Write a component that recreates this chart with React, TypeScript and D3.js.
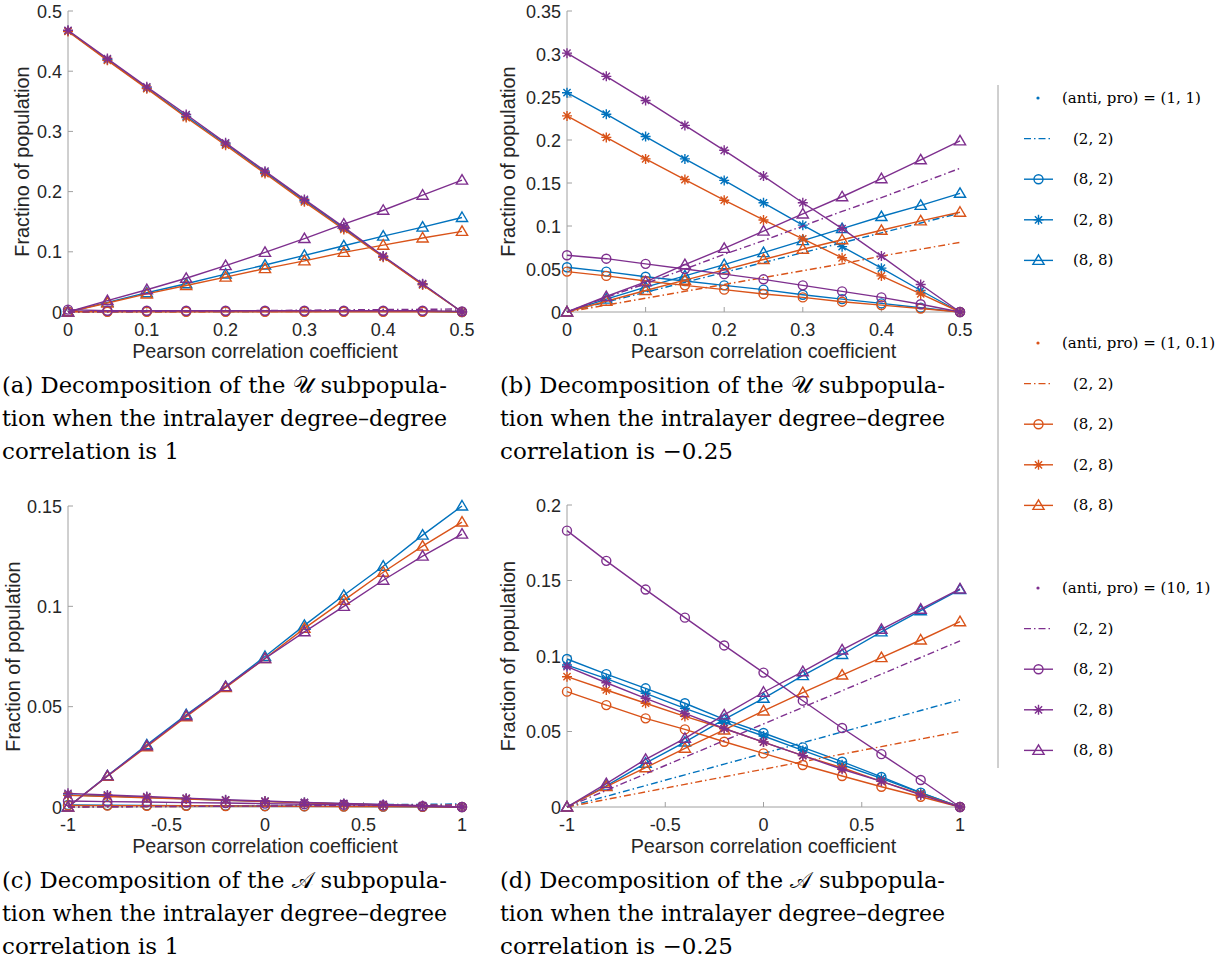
import React from 'react';
import * as d3 from 'd3';

const BLUE = '#0072BD';
const ORANGE = '#D95319';
const PURPLE = '#7E2F8E';

// x values
const xAB = [0, 0.05, 0.1, 0.15, 0.2, 0.25, 0.3, 0.35, 0.4, 0.45, 0.5];
const xCD = [-1, -0.8, -0.6, -0.4, -0.2, 0, 0.2, 0.4, 0.6, 0.8, 1];

// ticks
const xTicksAB = [0, 0.1, 0.2, 0.3, 0.4, 0.5];
const xTickLabelsAB = ['0', '0.1', '0.2', '0.3', '0.4', '0.5'];
const xTicksCD = [-1, -0.5, 0, 0.5, 1];
const xTickLabelsCD = ['-1', '-0.5', '0', '0.5', '1'];
const yTicksA = [0, 0.1, 0.2, 0.3, 0.4, 0.5];
const yTickLabelsA = ['0', '0.1', '0.2', '0.3', '0.4', '0.5'];
const yTicksB = [0, 0.05, 0.1, 0.15, 0.2, 0.25, 0.3, 0.35];
const yTickLabelsB = ['0', '0.05', '0.1', '0.15', '0.2', '0.25', '0.3', '0.35'];
const yTicksC = [0, 0.05, 0.1, 0.15];
const yTickLabelsC = ['0', '0.05', '0.1', '0.15'];
const yTicksD = [0, 0.05, 0.1, 0.15, 0.2];
const yTickLabelsD = ['0', '0.05', '0.1', '0.15', '0.2'];

// Panel (a)
const aBlueDash = [0, 0.0002, 0.0004, 0.0006, 0.0008, 0.001, 0.0012, 0.0014, 0.0016, 0.0018, 0.002];
const aBlueCirc = [0.001, 0.001, 0.001, 0.001, 0.001, 0.001, 0.001, 0.001, 0.001, 0.001, 0];
const aBlueStar = [0.467, 0.419, 0.372, 0.325, 0.279, 0.232, 0.185, 0.139, 0.092, 0.046, 0];
const aBlueTri = [0, 0.016, 0.032, 0.047, 0.063, 0.078, 0.094, 0.11, 0.126, 0.141, 0.157];
const aOrangeDash = [0, 0.00015, 0.0003, 0.00045, 0.0006, 0.00075, 0.0009, 0.00105, 0.0012, 0.00135, 0.0015];
const aOrangeCirc = [0.0005, 0.0005, 0.0005, 0.0005, 0.0005, 0.0005, 0.0005, 0.0005, 0.0005, 0.0005, 0];
const aOrangeStar = [0.466, 0.418, 0.371, 0.323, 0.277, 0.23, 0.183, 0.137, 0.091, 0.045, 0];
const aOrangeTri = [0, 0.015, 0.03, 0.044, 0.058, 0.072, 0.085, 0.099, 0.111, 0.123, 0.134];
const aPurpleDash = [0, 0.0005, 0.001, 0.0015, 0.002, 0.0025, 0.003, 0.0035, 0.004, 0.0045, 0.005];
const aPurpleCirc = [0.004, 0.002, 0.002, 0.002, 0.002, 0.002, 0.002, 0.002, 0.002, 0.002, 0.001];
const aPurpleStar = [0.468, 0.421, 0.374, 0.328, 0.281, 0.234, 0.187, 0.141, 0.093, 0.047, 0];
const aPurpleTri = [0, 0.019, 0.037, 0.056, 0.077, 0.099, 0.122, 0.146, 0.169, 0.194, 0.219];

// Panel (b)
const bBlueDash = [0, 0.0115, 0.023, 0.0345, 0.046, 0.0575, 0.069, 0.0805, 0.092, 0.1035, 0.115];
const bBlueCirc = [0.052, 0.047, 0.041, 0.036, 0.031, 0.026, 0.02, 0.015, 0.01, 0.005, 0];
const bBlueStar = [0.255, 0.23, 0.204, 0.178, 0.153, 0.127, 0.101, 0.076, 0.051, 0.025, 0];
const bBlueTri = [0, 0.015, 0.029, 0.042, 0.055, 0.069, 0.083, 0.097, 0.111, 0.124, 0.138];
const bOrangeDash = [0, 0.008, 0.016, 0.024, 0.032, 0.04, 0.048, 0.056, 0.065, 0.073, 0.081];
const bOrangeCirc = [0.047, 0.042, 0.036, 0.031, 0.026, 0.021, 0.017, 0.012, 0.008, 0.004, 0];
const bOrangeStar = [0.228, 0.203, 0.178, 0.154, 0.13, 0.107, 0.085, 0.063, 0.042, 0.021, 0];
const bOrangeTri = [0, 0.0125, 0.025, 0.037, 0.049, 0.061, 0.073, 0.084, 0.095, 0.106, 0.116];
const bPurpleDash = [0, 0.017, 0.033, 0.05, 0.067, 0.083, 0.1, 0.117, 0.133, 0.15, 0.167];
const bPurpleCirc = [0.066, 0.062, 0.056, 0.05, 0.044, 0.038, 0.031, 0.024, 0.017, 0.009, 0];
const bPurpleStar = [0.301, 0.274, 0.246, 0.217, 0.188, 0.158, 0.127, 0.097, 0.065, 0.032, 0];
const bPurpleTri = [0, 0.018, 0.035, 0.055, 0.074, 0.094, 0.114, 0.134, 0.155, 0.177, 0.199];

// Panel (c)
const cBlueDash = [0, 0.00015, 0.0003, 0.00045, 0.0006, 0.00075, 0.0009, 0.00105, 0.0012, 0.00135, 0.0015];
const cBlueCirc = [0.001, 0.0009, 0.0008, 0.0007, 0.0006, 0.0005, 0.0004, 0.0003, 0.0002, 0.0001, 0];
const cBlueStar = [0.006, 0.0055, 0.0048, 0.0041, 0.0034, 0.0028, 0.0022, 0.0016, 0.0011, 0.0005, 0];
const cBlueTri = [0, 0.0155, 0.031, 0.046, 0.06, 0.075, 0.0905, 0.1055, 0.12, 0.1355, 0.15];
const cOrangeDash = [0, 0.0001, 0.0002, 0.0003, 0.0004, 0.0005, 0.0006, 0.0007, 0.0008, 0.0009, 0.001];
const cOrangeCirc = [0.0008, 0.0007, 0.0006, 0.0006, 0.0005, 0.0004, 0.0003, 0.0002, 0.0002, 0.0001, 0];
const cOrangeStar = [0.0058, 0.0052, 0.0046, 0.004, 0.0033, 0.0027, 0.0021, 0.0015, 0.001, 0.0005, 0];
const cOrangeTri = [0, 0.0153, 0.03, 0.045, 0.0595, 0.074, 0.089, 0.103, 0.117, 0.13, 0.142];
const cPurpleDash = [0, 0.0001, 0.0002, 0.0003, 0.0004, 0.0005, 0.0006, 0.0007, 0.0008, 0.0009, 0.001];
const cPurpleCirc = [0.003, 0.0027, 0.0025, 0.0022, 0.002, 0.0017, 0.0014, 0.0011, 0.0008, 0.0004, 0];
const cPurpleStar = [0.0068, 0.006, 0.0052, 0.0044, 0.0036, 0.003, 0.0023, 0.0018, 0.0013, 0.0007, 0];
const cPurpleTri = [0, 0.0155, 0.0305, 0.0455, 0.06, 0.074, 0.0873, 0.1, 0.113, 0.125, 0.136];

// Panel (d)
const dBlueDash = [0, 0.0071, 0.0142, 0.0213, 0.0284, 0.0355, 0.0426, 0.0497, 0.0568, 0.0639, 0.071];
const dBlueCirc = [0.098, 0.088, 0.0786, 0.0687, 0.058, 0.049, 0.0395, 0.03, 0.0199, 0.0095, 0];
const dBlueStar = [0.094, 0.085, 0.0753, 0.0653, 0.056, 0.047, 0.0375, 0.028, 0.019, 0.0093, 0];
const dBlueTri = [0, 0.014, 0.029, 0.043, 0.058, 0.072, 0.087, 0.101, 0.116, 0.13, 0.144];
const dOrangeDash = [0, 0.005, 0.01, 0.015, 0.02, 0.025, 0.03, 0.035, 0.04, 0.045, 0.05];
const dOrangeCirc = [0.0764, 0.0675, 0.0587, 0.0514, 0.0432, 0.0355, 0.0278, 0.0205, 0.0134, 0.0068, 0];
const dOrangeStar = [0.0863, 0.0775, 0.0687, 0.06, 0.052, 0.043, 0.034, 0.026, 0.017, 0.0085, 0];
const dOrangeTri = [0, 0.0135, 0.026, 0.0389, 0.051, 0.0636, 0.0757, 0.0874, 0.0989, 0.1106, 0.1227];
const dPurpleDash = [0, 0.011, 0.022, 0.033, 0.044, 0.055, 0.066, 0.077, 0.088, 0.099, 0.11];
const dPurpleCirc = [0.183, 0.163, 0.144, 0.1254, 0.107, 0.089, 0.0704, 0.0523, 0.035, 0.0179, 0];
const dPurpleStar = [0.0929, 0.0823, 0.072, 0.062, 0.052, 0.043, 0.034, 0.025, 0.017, 0.008, 0];
const dPurpleTri = [0, 0.0155, 0.0316, 0.0455, 0.061, 0.076, 0.0896, 0.104, 0.1177, 0.131, 0.1444];

// legend
const legendHeaders = ['(anti, pro) = (1, 1)', '(anti, pro) = (1, 0.1)', '(anti, pro) = (10, 1)'];
const legendColors = [BLUE, ORANGE, PURPLE];
const legendLabels = ['(2, 2)', '(8, 2)', '(2, 8)', '(8, 8)'];
const legendKinds = ['dash', 'circ', 'star', 'tri'];

const captionA = ['(a) Decomposition of the \u{1D4B0} subpopula-', 'tion when the intralayer degree\u2013degree', 'correlation is 1'];
const captionB = ['(b) Decomposition of the \u{1D4B0} subpopula-', 'tion when the intralayer degree\u2013degree', 'correlation is \u22120.25'];
const captionC = ['(c) Decomposition of the \u{1D49C} subpopula-', 'tion when the intralayer degree\u2013degree', 'correlation is 1'];
const captionD = ['(d) Decomposition of the \u{1D49C} subpopula-', 'tion when the intralayer degree\u2013degree', 'correlation is \u22120.25'];

const SANS = '"Liberation Sans", Arial, Helvetica, sans-serif';
const SERIF = '"DejaVu Serif", serif';
const AXIS_COLOR = '#a0a0a0';
const TEXT_COLOR = '#262626';
const LW = 1.4;
const DASH = '7,3,1.5,3';
const TICK_FS = 18;
const LABEL_FS = 19.8;

function Marker({ kind, cx, cy, color }) {
  if (kind === 'circ') {
    return <circle cx={cx} cy={cy} r={4.5} fill="none" stroke={color} strokeWidth={LW} />;
  }
  if (kind === 'tri') {
    const p = `M${cx},${cy - 5.5}L${cx + 5.6},${cy + 4}L${cx - 5.6},${cy + 4}Z`;
    return <path d={p} fill="none" stroke={color} strokeWidth={LW} strokeLinejoin="miter" />;
  }
  if (kind === 'star') {
    const r = 5, q = 3.6;
    const p = `M${cx - r},${cy}L${cx + r},${cy}M${cx},${cy - r}L${cx},${cy + r}M${cx - q},${cy - q}L${cx + q},${cy + q}M${cx - q},${cy + q}L${cx + q},${cy - q}`;
    return <path d={p} fill="none" stroke={color} strokeWidth={LW} />;
  }
  return null;
}

function Panel({ left, top, width, height, xDomain, yDomain, xTicks, xTickLabels, yTicks, yTickLabels, xs, series, yLabel, yLabelX }) {
  const x = d3.scaleLinear().domain(xDomain).range([left, left + width]);
  const y = d3.scaleLinear().domain(yDomain).range([top + height, top]);
  const line = d3.line<number>().x((_d, i) => x(xs[i])).y((d) => y(d));
  const bottom = top + height;
  return (
    <g>
      <line x1={left} x2={left} y1={top} y2={bottom} stroke={AXIS_COLOR} strokeWidth={1} />
      <line x1={left} x2={left + width} y1={bottom} y2={bottom} stroke={AXIS_COLOR} strokeWidth={1} />
      {xTicks.map((t, i) => (
        <g key={'xt' + i}>
          <line x1={x(t)} x2={x(t)} y1={bottom} y2={bottom - 5} stroke={AXIS_COLOR} strokeWidth={1} />
          <text x={x(t)} y={bottom + 24} textAnchor="middle" fontFamily={SANS} fontSize={TICK_FS} fill={TEXT_COLOR}>{xTickLabels[i]}</text>
        </g>
      ))}
      {yTicks.map((t, i) => (
        <g key={'yt' + i}>
          <line x1={left} x2={left + 5} y1={y(t)} y2={y(t)} stroke={AXIS_COLOR} strokeWidth={1} />
          <text x={left - 6} y={y(t) + 6.5} textAnchor="end" fontFamily={SANS} fontSize={TICK_FS} fill={TEXT_COLOR}>{yTickLabels[i]}</text>
        </g>
      ))}
      <text x={left + width / 2} y={bottom + 46} textAnchor="middle" fontFamily={SANS} fontSize={LABEL_FS} fill={TEXT_COLOR}>Pearson correlation coefficient</text>
      <text transform={`translate(${yLabelX},${top + height / 2}) rotate(-90)`} textAnchor="middle" fontFamily={SANS} fontSize={LABEL_FS} fill={TEXT_COLOR}>{yLabel}</text>
      {series.map((s, si) => (
        <g key={'s' + si}>
          <path d={line(s.values) || ''} fill="none" stroke={s.color} strokeWidth={LW}
            strokeDasharray={s.kind === 'dash' ? DASH : undefined} />
          {s.kind !== 'dash' && s.values.map((v, i) => (
            <Marker key={i} kind={s.kind} cx={x(xs[i])} cy={y(v)} color={s.color} />
          ))}
        </g>
      ))}
    </g>
  );
}

function mk(blue, orange, purple) {
  const out = [];
  const cols = [BLUE, ORANGE, PURPLE];
  [blue, orange, purple].forEach((grp, gi) => {
    grp.forEach((vals, k) => out.push({ values: vals, color: cols[gi], kind: legendKinds[k] }));
  });
  return out;
}

function Caption({ x, y, lines, w }) {
  return (
    <g fontFamily={SERIF} fontSize={23} fill="#000">
      {lines.map((l, i) => (
        <text key={i} x={x} y={y + i * 33}
          textLength={i < 2 ? w : undefined}
          lengthAdjust={i < 2 ? 'spacingAndGlyphs' : undefined}>{l}</text>
      ))}
    </g>
  );
}

function Legend() {
  const groupTop = [98, 343, 588];
  const step = 40.6;
  return (
    <g>
      <line x1={998} x2={998} y1={85} y2={768} stroke={AXIS_COLOR} strokeWidth={1} />
      {legendHeaders.map((h, gi) => {
        const c = legendColors[gi];
        const y0 = groupTop[gi];
        return (
          <g key={gi}>
            <circle cx={1038} cy={y0} r={1.6} fill={c} />
            <text x={1062} y={y0 + 5} fontFamily={SERIF} fontSize={15} fill="#000">{h}</text>
            {legendLabels.map((lab, k) => {
              const yy = y0 + step * (k + 1);
              const kind = legendKinds[k];
              return (
                <g key={k}>
                  <line x1={1024} x2={1053} y1={yy} y2={yy} stroke={c} strokeWidth={LW}
                    strokeDasharray={kind === 'dash' ? DASH : undefined} />
                  {kind !== 'dash' && <Marker kind={kind} cx={1038.5} cy={yy} color={c} />}
                  <text x={1073} y={yy + 5} fontFamily={SERIF} fontSize={15} fill="#000">{lab}</text>
                </g>
              );
            })}
          </g>
        );
      })}
    </g>
  );
}

export default function App() {
  const seriesA = mk([aBlueDash, aBlueCirc, aBlueStar, aBlueTri], [aOrangeDash, aOrangeCirc, aOrangeStar, aOrangeTri], [aPurpleDash, aPurpleCirc, aPurpleStar, aPurpleTri]);
  const seriesB = mk([bBlueDash, bBlueCirc, bBlueStar, bBlueTri], [bOrangeDash, bOrangeCirc, bOrangeStar, bOrangeTri], [bPurpleDash, bPurpleCirc, bPurpleStar, bPurpleTri]);
  const seriesC = mk([cBlueDash, cBlueCirc, cBlueStar, cBlueTri], [cOrangeDash, cOrangeCirc, cOrangeStar, cOrangeTri], [cPurpleDash, cPurpleCirc, cPurpleStar, cPurpleTri]);
  const seriesD = mk([dBlueDash, dBlueCirc, dBlueStar, dBlueTri], [dOrangeDash, dOrangeCirc, dOrangeStar, dOrangeTri], [dPurpleDash, dPurpleCirc, dPurpleStar, dPurpleTri]);
  return (
    <svg width={1227} height={970} style={{ position: 'absolute', left: 0, top: 0, background: '#fff' }}>
      <rect x={0} y={0} width={1227} height={970} fill="#fff" />
      <Panel left={68} top={11} width={394} height={301} xDomain={[0, 0.5]} yDomain={[0, 0.5]}
        xTicks={xTicksAB} xTickLabels={xTickLabelsAB} yTicks={yTicksA} yTickLabels={yTickLabelsA}
        xs={xAB} series={seriesA} yLabel="Fractino of population" yLabelX={29} />
      <Panel left={567} top={11} width={393} height={301} xDomain={[0, 0.5]} yDomain={[0, 0.35]}
        xTicks={xTicksAB} xTickLabels={xTickLabelsAB} yTicks={yTicksB} yTickLabels={yTickLabelsB}
        xs={xAB} series={seriesB} yLabel="Fractino of population" yLabelX={515} />
      <Panel left={68} top={506} width={394} height={301} xDomain={[-1, 1]} yDomain={[0, 0.15]}
        xTicks={xTicksCD} xTickLabels={xTickLabelsCD} yTicks={yTicksC} yTickLabels={yTickLabelsC}
        xs={xCD} series={seriesC} yLabel="Fraction of population" yLabelX={20} />
      <Panel left={567} top={505} width={393} height={302} xDomain={[-1, 1]} yDomain={[0, 0.2]}
        xTicks={xTicksCD} xTickLabels={xTickLabelsCD} yTicks={yTicksD} yTickLabels={yTickLabelsD}
        xs={xCD} series={seriesD} yLabel="Fraction of population" yLabelX={515} />
      <Caption x={2} y={393} lines={captionA} w={445} />
      <Caption x={500} y={393} lines={captionB} w={445} />
      <Caption x={2} y={888} lines={captionC} w={445} />
      <Caption x={500} y={888} lines={captionD} w={445} />
      <Legend />
    </svg>
  );
}
